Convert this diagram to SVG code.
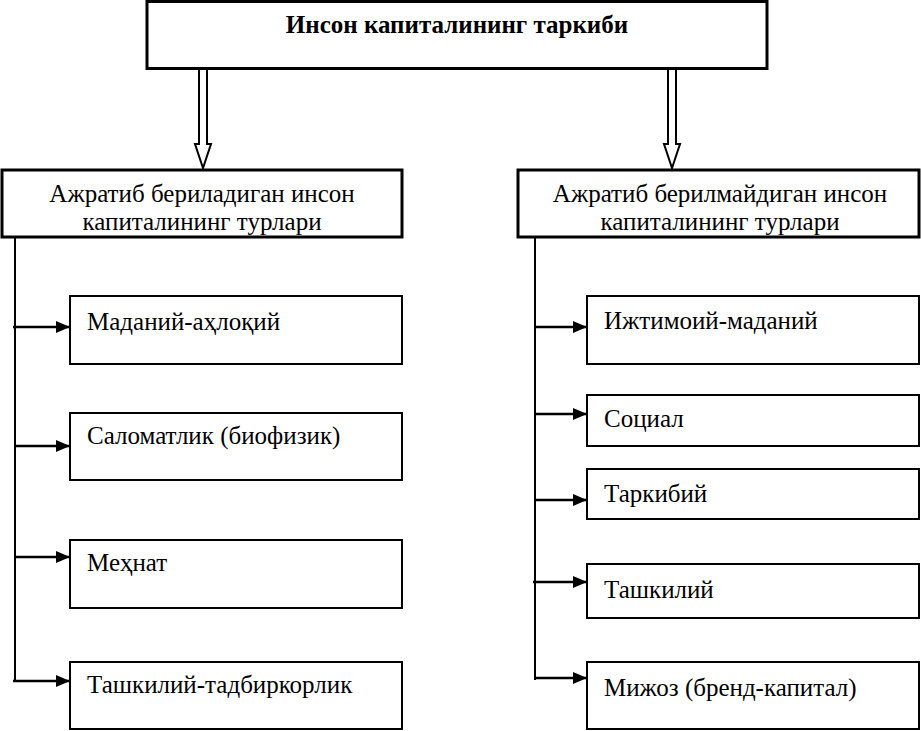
<svg xmlns="http://www.w3.org/2000/svg" width="921" height="731" viewBox="0 0 921 731">
<style>
.bx{fill:#fff;stroke:#000;stroke-width:2}
.bx3{fill:#fff;stroke:#000;stroke-width:3}
.t{font-family:"Liberation Serif","Times New Roman",serif;font-size:25px;fill:#000}
.tb{font-family:"Liberation Serif","Times New Roman",serif;font-size:25px;font-weight:bold;fill:#000}
.ln{stroke:#000;stroke-width:2;fill:none}
.ar{stroke:#000;stroke-width:2.5;fill:none}
.hol{fill:#fff;stroke:#000;stroke-width:2;stroke-linejoin:miter}
</style>
<defs>
<marker id="ah" markerUnits="userSpaceOnUse" markerWidth="15" markerHeight="12" refX="14" refY="6" orient="auto">
<path d="M0,0 L14,6 L0,12 Z" fill="#000"/>
</marker>
</defs>
<rect width="921" height="731" fill="#fff"/>
<g id="connectors">
<path class="hol" d="M199,70 V144 H195 L203,168 L211,144 H207 V70"/>
<path class="hol" d="M668,70 V144 H664 L672,168 L680,144 H676 V70"/>
<line class="ln" x1="15" y1="238" x2="15" y2="682"/>
<line class="ar" x1="13" y1="327" x2="70" y2="327" marker-end="url(#ah)"/>
<line class="ar" x1="15" y1="446" x2="70" y2="446" marker-end="url(#ah)"/>
<line class="ar" x1="15" y1="557" x2="70" y2="557" marker-end="url(#ah)"/>
<line class="ar" x1="13" y1="681" x2="70" y2="681" marker-end="url(#ah)"/>
<line class="ln" x1="535" y1="238" x2="535" y2="680"/>
<line class="ar" x1="535" y1="327" x2="587" y2="327" marker-end="url(#ah)"/>
<line class="ar" x1="535" y1="414" x2="587" y2="414" marker-end="url(#ah)"/>
<line class="ar" x1="536" y1="500" x2="587" y2="500" marker-end="url(#ah)"/>
<line class="ar" x1="533" y1="582" x2="587" y2="582" marker-end="url(#ah)"/>
<line class="ar" x1="535" y1="678" x2="587" y2="678" marker-end="url(#ah)"/>
</g>
<g id="top">
<rect class="bx3" x="147" y="1.5" width="620" height="67"/>
<text class="tb" x="457" y="33" text-anchor="middle">Инсон капиталининг таркиби</text>
</g>
<g id="left-head">
<rect class="bx3" x="2" y="170" width="400" height="67"/>
<text class="t" x="202" y="202" text-anchor="middle">Ажратиб бериладиган инсон</text>
<text class="t" x="202" y="230" text-anchor="middle">капиталининг турлари</text>
</g>
<g id="right-head">
<rect class="bx3" x="518" y="170" width="401" height="67"/>
<text class="t" x="720" y="202" text-anchor="middle">Ажратиб берилмайдиган инсон</text>
<text class="t" x="720" y="230" text-anchor="middle">капиталининг турлари</text>
</g>
<g id="l1"><rect class="bx" x="70" y="296" width="332" height="68"/><text class="t" x="87" y="330">Маданий-аҳлоқий</text></g>
<g id="l2"><rect class="bx" x="70" y="413" width="332" height="67"/><text class="t" x="87" y="444">Саломатлик (биофизик)</text></g>
<g id="l3"><rect class="bx" x="70" y="540" width="332" height="68"/><text class="t" x="87" y="571">Меҳнат</text></g>
<g id="l4"><rect class="bx" x="70" y="662" width="332" height="67"/><text class="t" x="87" y="693">Ташкилий-тадбиркорлик</text></g>
<g id="r1"><rect class="bx" x="587" y="296" width="332" height="68"/><text class="t" x="604" y="329">Ижтимоий-маданий</text></g>
<g id="r2"><rect class="bx" x="587" y="395" width="332" height="51"/><text class="t" x="604" y="427">Социал</text></g>
<g id="r3"><rect class="bx" x="587" y="469" width="332" height="50"/><text class="t" x="604" y="502">Таркибий</text></g>
<g id="r4"><rect class="bx" x="587" y="564" width="332" height="54"/><text class="t" x="604" y="598">Ташкилий</text></g>
<g id="r5"><rect class="bx" x="587" y="662" width="332" height="67"/><text class="t" x="604" y="696">Мижоз (бренд-капитал)</text></g>
</svg>
